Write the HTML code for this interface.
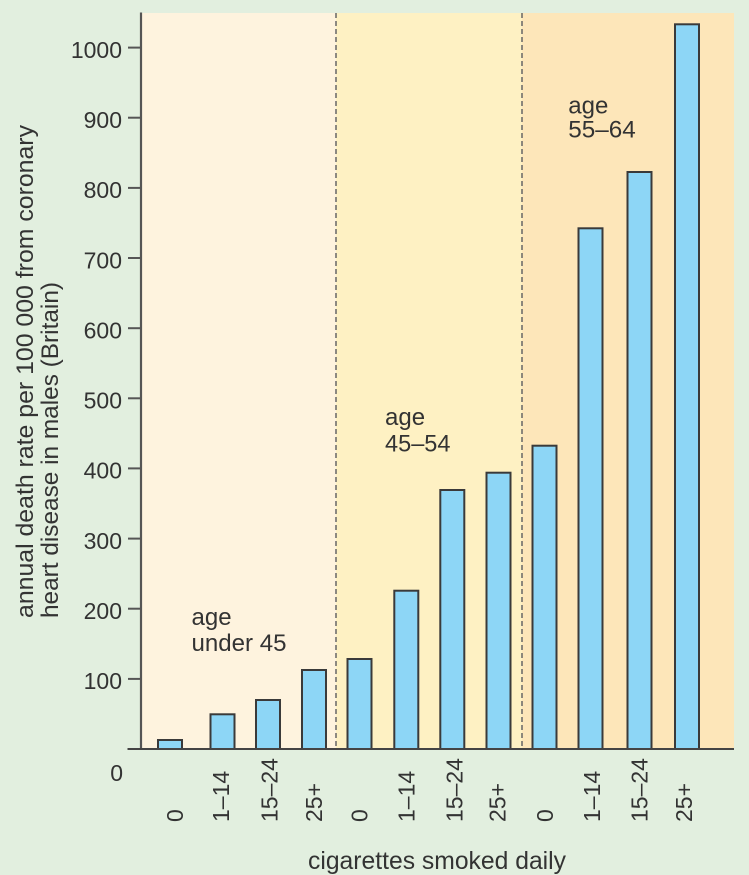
<!DOCTYPE html>
<html><head><meta charset="utf-8"><style>
html,body{margin:0;padding:0;background:#e2efdf;}
svg{display:block;}
text{font-family:"Liberation Sans",sans-serif;fill:#333;}
</style></head><body>
<svg width="749" height="875" viewBox="0 0 749 875" xmlns="http://www.w3.org/2000/svg">
<rect x="0" y="0" width="749" height="875" fill="#e2efdf"/>
<!-- regions -->
<rect x="141" y="13" width="195" height="736" fill="#fef3de"/>
<rect x="336" y="13" width="186" height="736" fill="#fef1c3"/>
<rect x="522" y="13" width="212" height="736" fill="#fde6b9"/>
<!-- dashed separators -->
<line x1="336" y1="13" x2="336" y2="749" stroke="#666" stroke-width="1.5" stroke-dasharray="5,3"/>
<line x1="522" y1="13" x2="522" y2="749" stroke="#666" stroke-width="1.5" stroke-dasharray="5,3"/>
<!-- bars -->
<g fill="#8dd6f6" stroke="#3a3a3a" stroke-width="2">
<rect x="158" y="740" width="24" height="9"/>
<rect x="210.5" y="714.3" width="24" height="34.7"/>
<rect x="256" y="700" width="24" height="49"/>
<rect x="302" y="670" width="24" height="79"/>
<rect x="347.5" y="659" width="24" height="90"/>
<rect x="394.3" y="590.7" width="24" height="158.3"/>
<rect x="440.3" y="490" width="24" height="259"/>
<rect x="486.5" y="472.7" width="24" height="276.3"/>
<rect x="532.5" y="445.7" width="24" height="303.3"/>
<rect x="578.5" y="228.3" width="24" height="520.7"/>
<rect x="627.5" y="172" width="24" height="577"/>
<rect x="675" y="24.3" width="24" height="724.7"/>
</g>
<!-- axes -->
<line x1="141" y1="12.5" x2="141" y2="750" stroke="#555" stroke-width="2.2"/>
<line x1="127.5" y1="749" x2="734" y2="749" stroke="#444" stroke-width="2"/>
<g stroke="#555" stroke-width="2">
<line x1="128" y1="678.9" x2="141" y2="678.9"/>
<line x1="128" y1="608.7" x2="141" y2="608.7"/>
<line x1="128" y1="538.6" x2="141" y2="538.6"/>
<line x1="128" y1="468.4" x2="141" y2="468.4"/>
<line x1="128" y1="398.3" x2="141" y2="398.3"/>
<line x1="128" y1="328.2" x2="141" y2="328.2"/>
<line x1="128" y1="258.0" x2="141" y2="258.0"/>
<line x1="128" y1="187.9" x2="141" y2="187.9"/>
<line x1="128" y1="117.7" x2="141" y2="117.7"/>
<line x1="128" y1="47.6" x2="141" y2="47.6"/>
</g>
<!-- y tick labels -->
<g font-size="23" text-anchor="end">
<text x="122" y="689.2">100</text>
<text x="122" y="619">200</text>
<text x="122" y="548.9">300</text>
<text x="122" y="478.7">400</text>
<text x="122" y="408.6">500</text>
<text x="122" y="338.5">600</text>
<text x="122" y="268.3">700</text>
<text x="122" y="198.2">800</text>
<text x="122" y="128">900</text>
<text x="122" y="57.9">1000</text>
<text x="123" y="781">0</text>
</g>
<!-- y axis title -->
<text font-size="24.5" transform="translate(33,618) rotate(-90)" textLength="493" lengthAdjust="spacingAndGlyphs">annual death rate per 100 000 from coronary</text>
<text font-size="24.5" transform="translate(58,618) rotate(-90)" textLength="336" lengthAdjust="spacingAndGlyphs">heart disease in males (Britain)</text>
<!-- x tick labels -->
<g font-size="23">
<text transform="translate(182.8,822) rotate(-90)">0</text>
<text transform="translate(228.8,822) rotate(-90)">1–14</text>
<text transform="translate(277.3,822) rotate(-90)">15–24</text>
<text transform="translate(321.8,822) rotate(-90)">25+</text>
<text transform="translate(367.3,822) rotate(-90)">0</text>
<text transform="translate(414.3,822) rotate(-90)">1–14</text>
<text transform="translate(462.3,822) rotate(-90)">15–24</text>
<text transform="translate(505.5,822) rotate(-90)">25+</text>
<text transform="translate(553,822) rotate(-90)">0</text>
<text transform="translate(599.8,822) rotate(-90)">1–14</text>
<text transform="translate(647.3,822) rotate(-90)">15–24</text>
<text transform="translate(691.8,822) rotate(-90)">25+</text>
</g>
<!-- x axis title -->
<text x="308" y="869" font-size="25" textLength="258" lengthAdjust="spacingAndGlyphs">cigarettes smoked daily</text>
<!-- group labels -->
<g font-size="24">
<text x="191.5" y="625">age</text>
<text x="191.5" y="651" textLength="95" lengthAdjust="spacingAndGlyphs">under 45</text>
<text x="385" y="425">age</text>
<text x="385" y="451.5" textLength="65.5" lengthAdjust="spacingAndGlyphs">45–54</text>
<text x="568.3" y="113.3">age</text>
<text x="568.3" y="137.7" textLength="67.5" lengthAdjust="spacingAndGlyphs">55–64</text>
</g>
</svg>
</body></html>
